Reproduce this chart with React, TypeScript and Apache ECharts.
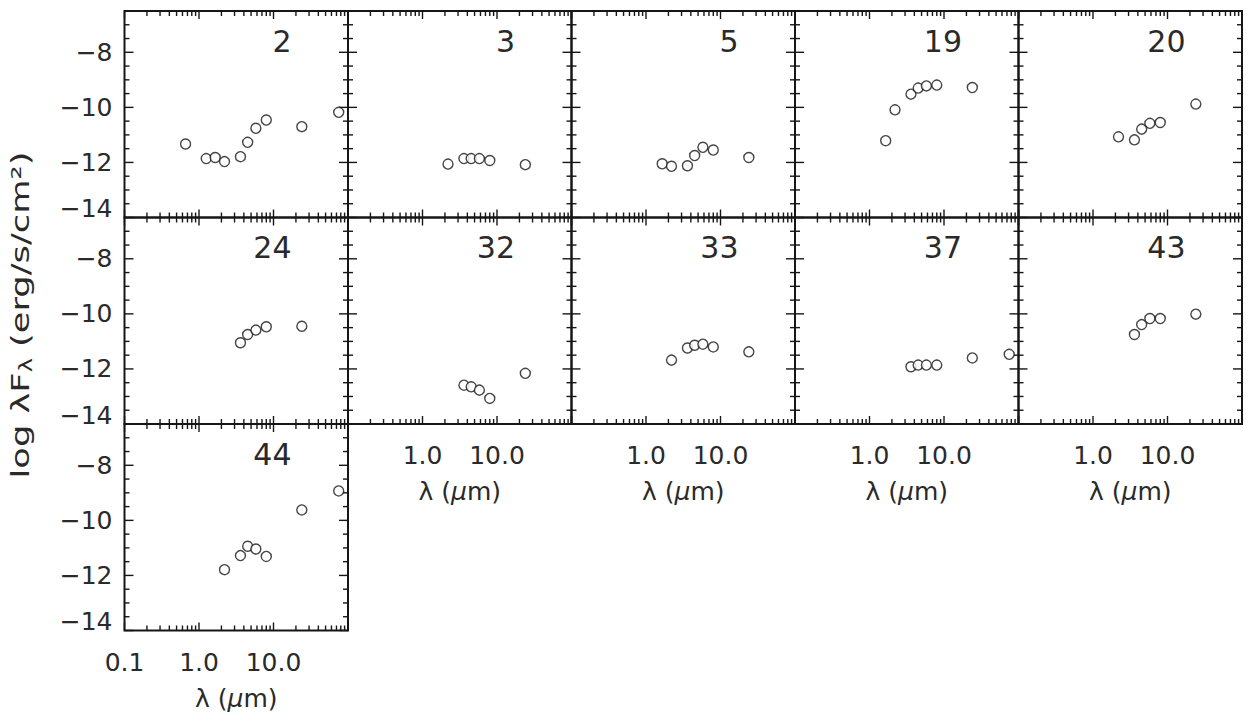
import React, { useEffect, useRef } from "react";
import * as echarts from "echarts";

// Source labels, in panel order (five panels per row)
const panelIds = ["2", "3", "5", "19", "20", "24", "32", "33", "37", "43", "44"];

// Wavelength (μm) and log λFλ (erg/s/cm²) for each source
const lam2 = [0.66, 1.25, 1.65, 2.2, 3.6, 4.5, 5.8, 8.0, 24, 75];
const flux2 = [-11.33, -11.86, -11.82, -11.97, -11.79, -11.27, -10.76, -10.46, -10.7, -10.18];
const lam3 = [2.2, 3.6, 4.5, 5.8, 8.0, 24];
const flux3 = [-12.06, -11.86, -11.86, -11.86, -11.93, -12.08];
const lam5 = [1.65, 2.2, 3.6, 4.5, 5.8, 8.0, 24];
const flux5 = [-12.05, -12.14, -12.12, -11.75, -11.45, -11.55, -11.82];
const lam19 = [1.65, 2.2, 3.6, 4.5, 5.8, 8.0, 24];
const flux19 = [-11.21, -10.09, -9.52, -9.3, -9.22, -9.19, -9.28];
const lam20 = [2.2, 3.6, 4.5, 5.8, 8.0, 24];
const flux20 = [-11.07, -11.18, -10.79, -10.58, -10.55, -9.88];
const lam24 = [3.6, 4.5, 5.8, 8.0, 24];
const flux24 = [-11.05, -10.75, -10.59, -10.47, -10.45];
const lam32 = [3.6, 4.5, 5.8, 8.0, 24];
const flux32 = [-12.59, -12.65, -12.77, -13.07, -12.16];
const lam33 = [2.2, 3.6, 4.5, 5.8, 8.0, 24];
const flux33 = [-11.68, -11.24, -11.14, -11.1, -11.2, -11.38];
const lam37 = [3.6, 4.5, 5.8, 8.0, 24, 75];
const flux37 = [-11.92, -11.86, -11.86, -11.86, -11.6, -11.47];
const lam43 = [3.6, 4.5, 5.8, 8.0, 24];
const flux43 = [-10.75, -10.39, -10.17, -10.17, -10.01];
const lam44 = [2.2, 3.6, 4.5, 5.8, 8.0, 24, 75];
const flux44 = [-11.79, -11.28, -10.94, -11.04, -11.31, -9.62, -8.93];

const wavelengths = [lam2, lam3, lam5, lam19, lam20, lam24, lam32, lam33, lam37, lam43, lam44];
const fluxes = [flux2, flux3, flux5, flux19, flux20, flux24, flux32, flux33, flux37, flux43, flux44];

// Axis ranges and tick positions
const X_MIN = 0.1;
const X_MAX = 100;
const Y_MIN = -14;
const Y_MAX = -6.5;
const xMajorTicks = [0.1, 1, 10, 100];
const xMinorTicks = [0.2, 0.3, 0.4, 0.5, 0.6, 0.7, 0.8, 0.9, 2, 3, 4, 5, 6, 7, 8, 9, 20, 30, 40, 50, 60, 70, 80, 90];
const yMajorTicks = [-14, -12, -10, -8];
const yMinorTicks = [-13.5, -13, -12.5, -11.5, -11, -10.5, -9.5, -9, -8.5, -7.5, -7];

// Panel layout
const COLS = 5;
const GRID_LEFT = 124.5;
const GRID_TOP = 11;
const CELL_W = 223.5;
const CELL_H = 206.5;

const INK = "#161616";
const TEXT = "#2a2a2a";
const FONT = '"DejaVu Sans", sans-serif';

const tickData = [
  ...xMajorTicks.map((v) => [v, -10, 0]),
  ...xMinorTicks.map((v) => [v, -10, 1]),
  ...yMajorTicks.map((v) => [1, v, 2]),
  ...yMinorTicks.map((v) => [1, v, 3]),
];

const minus = (v: number) => (v < 0 ? "\u2212" + Math.abs(v) : String(v));

function renderTick(params: any, api: any) {
  const kind = api.value(2);
  const cs = params.coordSys;
  const pt = api.coord([api.value(0), api.value(1)]);
  const style = { stroke: INK, lineWidth: 1.4 };
  if (kind < 2) {
    const len = kind === 0 ? 8 : 5;
    const x = pt[0];
    return {
      type: "group",
      children: [
        { type: "line", shape: { x1: x, y1: cs.y + cs.height, x2: x, y2: cs.y + cs.height - len }, style },
        { type: "line", shape: { x1: x, y1: cs.y, x2: x, y2: cs.y + len }, style },
      ],
    };
  }
  const len = kind === 2 ? 9 : 5;
  const y = pt[1];
  return {
    type: "group",
    children: [
      { type: "line", shape: { x1: cs.x, y1: y, x2: cs.x + len, y2: y }, style },
      { type: "line", shape: { x1: cs.x + cs.width, y1: y, x2: cs.x + cs.width - len, y2: y }, style },
    ],
  };
}

function buildOption() {
  const grid: any[] = [];
  const xAxis: any[] = [];
  const yAxis: any[] = [];
  const series: any[] = [];
  const graphic: any[] = [];

  panelIds.forEach((id, i) => {
    const r = Math.floor(i / COLS);
    const c = i % COLS;
    const left = GRID_LEFT + c * CELL_W;
    const top = GRID_TOP + r * CELL_H;
    const hasBottomLabels = r === 2 || (r === 1 && c > 0);

    grid.push({
      left,
      top,
      width: CELL_W,
      height: CELL_H,
      show: true,
      borderColor: INK,
      borderWidth: 2,
      backgroundColor: "transparent",
    });

    xAxis.push({
      type: "log",
      logBase: 10,
      gridIndex: i,
      min: X_MIN,
      max: X_MAX,
      axisLine: { show: false },
      axisTick: { show: false },
      splitLine: { show: false },
      axisLabel: {
        show: hasBottomLabels,
        showMinLabel: true,
        showMaxLabel: false,
        margin: 19,
        fontSize: 25,
        fontFamily: FONT,
        color: TEXT,
        formatter: (v: number) => {
          if (v >= 50) return "";
          if (v < 0.5 && c !== 0) return "";
          return v.toFixed(1);
        },
      },
      name: hasBottomLabels ? "{a|\u03bb (}{m|\u03bc}{a|m)}" : "",
      nameLocation: "middle",
      nameGap: 55,
      nameTextStyle: {
        fontSize: 25,
        fontFamily: FONT,
        color: TEXT,
        rich: {
          a: { fontSize: 25, fontFamily: FONT, color: TEXT },
          m: { fontSize: 25, fontFamily: FONT, color: TEXT, fontStyle: "italic" },
        },
      },
    });

    yAxis.push({
      type: "value",
      gridIndex: i,
      min: Y_MIN,
      max: Y_MAX,
      interval: 2,
      axisLine: { show: false },
      axisTick: { show: false },
      splitLine: { show: false },
      axisLabel: {
        show: c === 0,
        showMinLabel: true,
        showMaxLabel: false,
        margin: 12,
        fontSize: 25,
        fontFamily: FONT,
        color: TEXT,
        formatter: (v: number) => (v === Y_MIN ? "{lo|" + minus(v) + "}" : minus(v)),
        rich: {
          lo: { fontSize: 25, fontFamily: FONT, color: TEXT, padding: [0, 0, 18, 0] },
        },
      },
    });

    series.push({
      type: "custom",
      name: "ticks-" + id,
      xAxisIndex: i,
      yAxisIndex: i,
      data: tickData,
      renderItem: renderTick,
      silent: true,
      z: 2,
    });

    series.push({
      type: "scatter",
      name: id,
      xAxisIndex: i,
      yAxisIndex: i,
      data: wavelengths[i].map((l, k) => [l, fluxes[i][k]]),
      symbol: "circle",
      symbolSize: 10,
      itemStyle: { color: "#ffffff", borderColor: INK, borderWidth: 1.4 },
      z: 3,
    });

    graphic.push({
      type: "text",
      x: left + 167,
      y: top + 30,
      style: {
        text: id,
        fontSize: 30,
        fontFamily: FONT,
        fill: TEXT,
        align: "right",
        verticalAlign: "middle",
      },
    });
  });

  graphic.push({
    type: "text",
    x: 20,
    y: 315,
    rotation: Math.PI / 2,
    scaleX: 1.41,
    style: {
      text: "{a|log \u03bbF}{s|\u03bb}{a| (erg/s/cm\u00b2)}",
      align: "center",
      verticalAlign: "middle",
      rich: {
        a: { fontSize: 25, fontFamily: FONT, fill: TEXT, lineHeight: 30 },
        s: { fontSize: 17, fontFamily: FONT, fill: TEXT, lineHeight: 17, verticalAlign: "bottom" },
      },
    },
  });

  return {
    animation: false,
    backgroundColor: "#ffffff",
    grid,
    xAxis,
    yAxis,
    series,
    graphic,
  };
}

export default function App() {
  const ref = useRef<HTMLDivElement>(null);

  useEffect(() => {
    if (!ref.current) return;
    const chart = echarts.init(ref.current, undefined, { renderer: "svg" });
    chart.setOption(buildOption() as any);
    return () => chart.dispose();
  }, []);

  return (
    <div
      ref={ref}
      style={{ position: "absolute", left: 0, top: 0, width: 1249, height: 722, background: "#ffffff" }}
    />
  );
}
